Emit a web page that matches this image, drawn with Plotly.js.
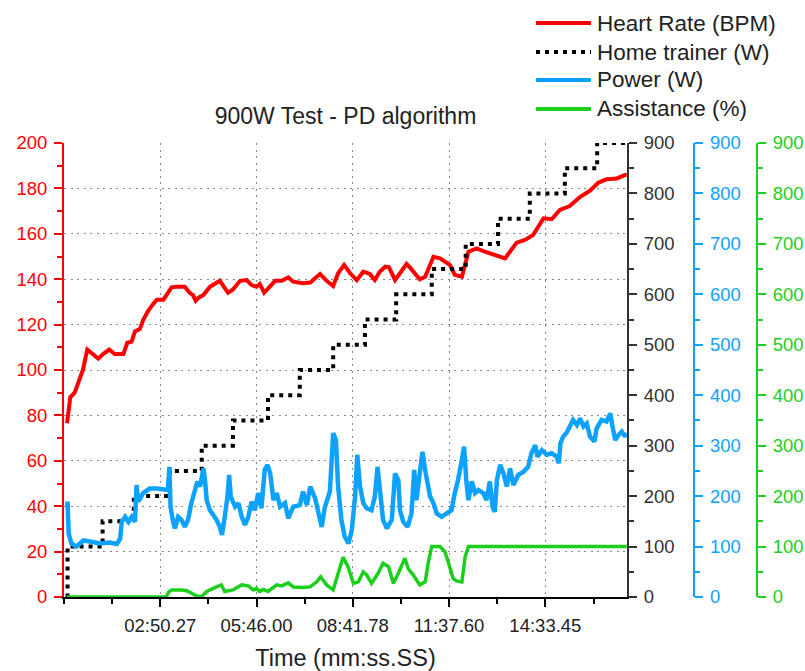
<!DOCTYPE html>
<html>
<head>
<meta charset="utf-8">
<script src="https://cdn.plot.ly/plotly-3.0.1.min.js"></script>
<style>html,body{margin:0;padding:0;background:#fff;}#chart{width:805px;height:671px;}</style>
</head>
<body>
<div id="chart"></div>
<script>
// Time in seconds
const tickTimes = [170.27, 346.00, 521.78, 697.60, 873.45];
const tickLabels = ["02:50.27", "05:46.00", "08:41.78", "11:37.60", "14:33.45"];
const minorTimes = [82.4, 258.1, 433.9, 609.7, 785.5, 961.4];

const seriesNames = ["Heart Rate (BPM)", "Home trainer (W)", "Power (W)", "Assistance (%)"];

const timeHR = [0,2,6,14,23,29,37,48,57,66,77,87,103,110,118,124,133,139,148,157,164,176,185,191,200,215,224,230,235,241,249,261,279,285,294,303,316,328,337,346,352,360,371,380,392,404,413,431,444,462,474,486,495,506,517,529,541,553,562,571,581,588,599,611,620,626,629,644,654,669,681,699,708,721,733,748,763,785,800,821,836,851,870,885,900,918,937,955,970,985,1004,1019,1022];
const heartRate = [76.5,82,88,90,96,100,109,107,105,107,109,107,107,112,112.5,117,118,122,126,129,131,131,134,136.4,136.7,136.7,134,133,130.5,132,133,136.7,139.3,137.4,134,135.5,139.3,139.6,137.4,136.7,137.9,134,136.7,139.3,139.3,140.8,138.9,138.2,138.5,142.3,139.3,137,142.6,146.3,142.6,139.6,143.3,142.3,139.6,143.3,145.5,145.2,139.6,143.3,146.7,145.2,144.4,140,141.1,149.9,149.2,146.3,141.9,141.1,152.1,153.6,152.1,150.2,149.2,156.1,157.3,159.5,166.8,166.4,170.5,172.2,176.3,179,182.5,184,184.4,185.9,186];

const timeTrainer = [0,1,65,122,188,246,303,367,425,486,544,601,666,728,787,845,909,968,1022];
const trainerW = [0,100,150,200,250,300,350,400,450,500,550,600,650,700,750,800,850,900,900];

const timePower = [0,1,3,5,8,17,30,42,60,78,91,97,100,106,112,118,124,127,130,139,151,164,176,184,187,189,193,197,203,209,215,221,227,234,238,243,249,252,255,261,267,273,279,283,288,293,296,299,307,313,319,325,331,337,343,349,355,361,366,371,377,383,389,398,404,413,425,431,438,444,453,459,465,471,480,486,491,495,501,507,514,520,526,530,535,541,547,556,562,567,571,577,584,593,599,605,608,614,622,629,634,638,644,649,655,663,669,675,684,693,702,708,714,721,725,729,733,739,745,751,760,766,772,777,781,785,791,797,803,809,815,824,833,842,848,855,859,867,876,885,894,898,901,906,912,918,924,931,937,943,949,955,963,967,976,985,992,996,1001,1007,1013,1019,1022];
const power = [179,189,126,120,106,100,112,110,106,108,105,116,149,159,149,159,149,222,189,206,215,215,212,212,258,179,153,136,159,153,139,153,186,209,229,219,255,232,192,172,163,153,139,123,159,199,242,199,179,186,159,143,159,189,172,206,176,252,262,245,192,206,179,186,156,179,182,209,182,219,196,166,139,179,209,325,311,219,153,120,106,133,199,282,219,186,176,172,199,258,219,153,136,153,245,232,172,149,139,166,252,192,245,288,245,199,186,166,159,166,172,206,232,272,298,232,192,229,206,212,206,192,229,179,169,232,262,245,219,255,222,242,248,258,285,301,278,291,282,285,278,265,305,318,325,338,351,341,354,338,344,318,308,334,351,348,364,338,311,321,328,318,325];

const timeAssist = [0,181,186,191,210,220,230,237,246,255,273,282,288,303,319,331,340,346,352,358,367,383,392,404,413,431,444,456,463,474,486,495,504,513,523,532,541,547,556,568,577,587,596,605,617,623,632,644,654,660,666,681,690,696,705,711,721,727,733,1022];
const assistance = [0,0,10,14,14,12,6,2,1,11,20,24,11,14,24,22,14,17,11,15,11,24,22,28,20,19,20,30,40,24,14,47,79,60,27,30,50,44,27,47,67,60,27,47,77,56,44,24,30,70,100,100,90,70,37,32,30,80,100,100];

const FONT = 'Liberation Sans, Arial, Helvetica, sans-serif';
const RED = '#ff0000', BLACK = '#333333', BLUE = '#0ea2ff', GREEN = '#1ccf1c';
const seriesColors = [RED, '#000000', BLUE, GREEN];
const seriesDash = ['solid', '4px,5px', 'solid', 'solid'];

const traces = [
  {x: timeHR, y: heartRate, name: seriesNames[0], type: 'scatter', mode: 'lines',
   line: {color: RED, width: 4}, yaxis: 'y'},
  {x: timeTrainer, y: trainerW, name: seriesNames[1], type: 'scatter', mode: 'lines',
   line: {color: '#000000', width: 4, dash: '4px,5px', shape: 'hv'}, yaxis: 'y2'},
  {x: timePower, y: power, name: seriesNames[2], type: 'scatter', mode: 'lines',
   line: {color: BLUE, width: 4.5}, yaxis: 'y3'},
  {x: timeAssist, y: assistance, name: seriesNames[3], type: 'scatter', mode: 'lines',
   line: {color: GREEN, width: 3.5}, yaxis: 'y4'}
];

function rightAxis(color, anchor, position) {
  const a = {
    range: [0, 900], tickmode: 'linear', tick0: 0, dtick: 100,
    overlaying: 'y', side: 'right', showgrid: false, zeroline: false,
    showline: true, linecolor: color, linewidth: 2,
    ticks: 'outside', ticklen: 8, tickwidth: 2, tickcolor: color,
    minor: {tickmode: 'linear', tick0: 0, dtick: 50, ticks: 'outside', ticklen: 5, tickwidth: 2, tickcolor: color, showgrid: false},
    tickfont: {family: FONT, size: 18.5, color: color},
    ticklabelstandoff: 3, fixedrange: true
  };
  if (anchor === 'free') { a.anchor = 'free'; a.position = position; } else { a.anchor = 'x'; }
  return a;
}

// Legend drawn in paper coordinates (paper spans the plot + outer axes)
const legendY = [1.2643, 1.2004, 1.1388, 1.0749];
const legendShapes = seriesNames.map((n, i) => ({
  type: 'line', xref: 'paper', yref: 'paper', x0: 0.6811, x1: 0.7605, y0: legendY[i], y1: legendY[i],
  line: {color: seriesColors[i], width: 4, dash: seriesDash[i]}
}));
const legendTexts = seriesNames.map((n, i) => ({
  text: n, xref: 'paper', yref: 'paper', x: 0.7665, y: legendY[i], xanchor: 'left', yanchor: 'middle',
  showarrow: false, font: {family: FONT, size: 22.5, color: '#222222'}
}));

const layout = {
  width: 805, height: 671,
  margin: {l: 64, r: 48, t: 143, b: 74, autoexpand: false},
  paper_bgcolor: '#ffffff', plot_bgcolor: '#ffffff',
  font: {family: FONT, color: '#222222'},
  showlegend: false,
  title: {text: '900W Test - PD algorithm', font: {family: FONT, size: 23, color: '#222222'},
          x: 0.4062, xref: 'paper', xanchor: 'center', y: 0.827, yref: 'container', yanchor: 'middle'},
  shapes: legendShapes,
  annotations: legendTexts,
  xaxis: {
    domain: [0, 0.81241], range: [-5.5, 1022.5],
    tickmode: 'array', tickvals: tickTimes, ticktext: tickLabels,
    showgrid: true, gridcolor: '#888888', gridwidth: 1, griddash: '2px,4.5px',
    zeroline: false, showline: true, linecolor: '#000000', linewidth: 2,
    ticks: 'outside', ticklen: 8, tickwidth: 2, tickcolor: '#000000',
    minor: {tickmode: 'array', tickvals: minorTimes.concat([-5.5]), ticks: 'outside', ticklen: 5, tickwidth: 2, tickcolor: '#000000', showgrid: false},
    tickfont: {family: FONT, size: 18.5, color: '#222222'},
    ticklabelstandoff: 3,
    title: {text: 'Time (mm:ss.SS)', font: {family: FONT, size: 23.5, color: '#222222'}, standoff: 20},
    fixedrange: true
  },
  yaxis: {
    range: [0, 200], tickmode: 'linear', tick0: 0, dtick: 20,
    showgrid: true, gridcolor: '#888888', gridwidth: 1, griddash: '2px,4.5px',
    zeroline: false, showline: true, linecolor: RED, linewidth: 2,
    ticks: 'outside', ticklen: 8, tickwidth: 2, tickcolor: RED,
    minor: {tickmode: 'linear', tick0: 0, dtick: 10, ticks: 'outside', ticklen: 5, tickwidth: 2, tickcolor: RED, showgrid: false},
    tickfont: {family: FONT, size: 18.5, color: RED},
    ticklabelstandoff: 3, fixedrange: true
  },
  yaxis2: rightAxis(BLACK, 'x'),
  yaxis3: rightAxis(BLUE, 'free', 0.9095),
  yaxis4: rightAxis(GREEN, 'free', 1.0)
};

Plotly.newPlot('chart', traces, layout, {displayModeBar: false, staticPlot: true});
</script>
</body>
</html>
